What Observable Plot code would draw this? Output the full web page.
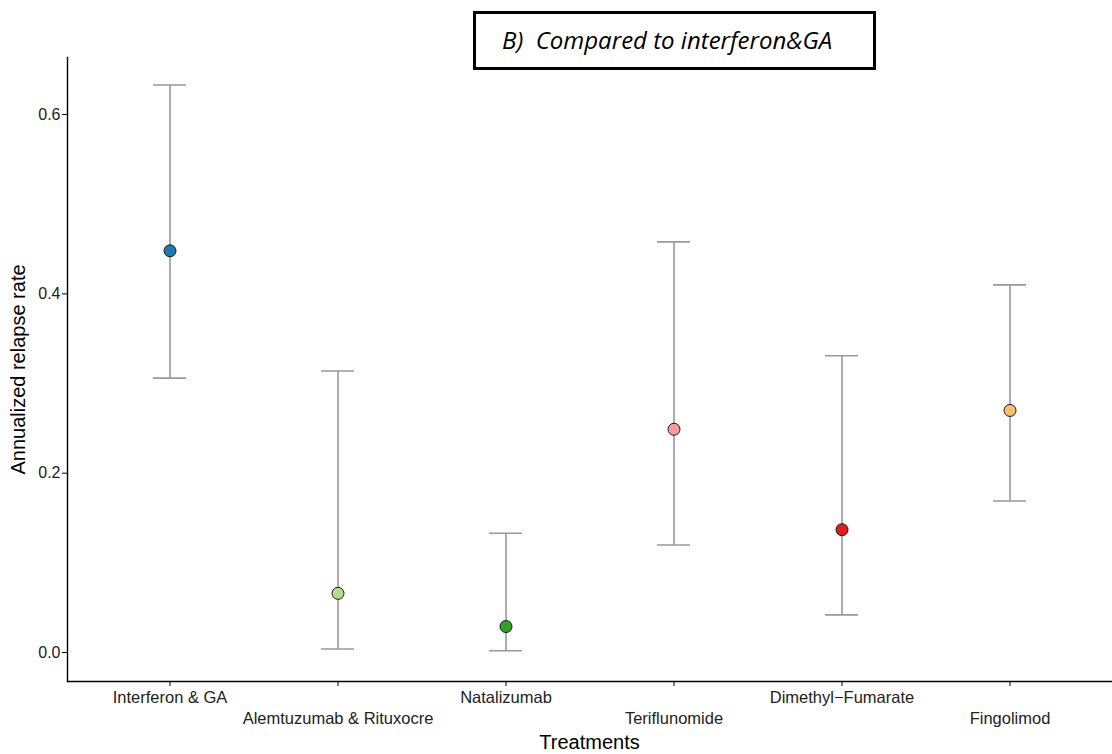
<!DOCTYPE html>
<html>
<head>
<meta charset="utf-8">
<script src="https://cdn.jsdelivr.net/npm/d3@7"></script>
<script src="https://cdn.jsdelivr.net/npm/@observablehq/plot@0.6"></script>
<style>
  body { margin: 0; background: #fff; }
  #wrap { position: relative; width: 1112px; height: 754px; }
  #title {
    position: absolute; left: 473px; top: 11px; width: 371px; height: 53px;
    border: 3px solid #000; background: #fff;
    font-family: "Open Sans", Lato, sans-serif; font-style: italic; font-size: 24px;
    white-space: pre; line-height: 51px; padding-left: 26px; box-sizing: content-box;
  }
</style>
</head>
<body>
<div id="wrap"></div>
<script>
const treatments = ["Interferon & GA", "Alemtuzumab & Rituxocre", "Natalizumab", "Teriflunomide", "Dimethyl\u2212Fumarate", "Fingolimod"];
const rate  = [0.448, 0.066, 0.029, 0.249, 0.137, 0.270];
const lower = [0.306, 0.004, 0.002, 0.120, 0.042, 0.169];
const upper = [0.633, 0.314, 0.133, 0.458, 0.331, 0.410];
const colors = ["#1f78b4", "#b2df8a", "#33a02c", "#fb9a99", "#e31a1c", "#fdbf6f"];
const yTicks = [0, 0.2, 0.4, 0.6];

const data = treatments.map((t, i) => ({t, i, rate: rate[i], lower: lower[i], upper: upper[i]}));

const chart = Plot.plot({
  width: 1112, height: 754,
  marginLeft: 67, marginRight: 1, marginTop: 57, marginBottom: 73,
  style: {fontFamily: "'Liberation Sans', Arial, sans-serif", fontSize: "16px", color: "#000", background: "#fff"},
  x: {type: "band", domain: treatments, paddingInner: 0.804, paddingOuter: 0.502},
  y: {domain: [-0.0323, 0.6636]},
  color: {type: "ordinal", domain: treatments, range: colors},
  marks: [
    Plot.ruleX(data, {x: "t", y1: "lower", y2: "upper", stroke: "#999", strokeWidth: 1.6}),
    Plot.tickY(data, {x: "t", y: "lower", stroke: "#999", strokeWidth: 1.6}),
    Plot.tickY(data, {x: "t", y: "upper", stroke: "#999", strokeWidth: 1.6}),
    Plot.dot(data, {x: "t", y: "rate", fill: "t", r: 6, stroke: "#1a1a1a", strokeWidth: 1}),
    Plot.axisY({ticks: yTicks, tickFormat: d3.format(".1f"), tickSize: 5, tickPadding: 2, fontSize: 16, label: null, fill: "#222"}),
    Plot.axisX({tickSize: 5, tickFormat: () => "", label: null}),
    Plot.text(data.filter(d => d.i % 2 === 0), {x: "t", text: "t", frameAnchor: "bottom", dy: 16, fontSize: 16.5, lineAnchor: "middle", fill: "#222"}),
    Plot.text(data.filter(d => d.i % 2 === 1), {x: "t", text: "t", frameAnchor: "bottom", dy: 37, fontSize: 16.5, lineAnchor: "middle", fill: "#222"}),
    Plot.text(["Treatments"], {frameAnchor: "bottom", dy: 61, fontSize: 20, lineAnchor: "middle"}),
    Plot.text(["Annualized relapse rate"], {frameAnchor: "left", dx: -49, rotate: -90, fontSize: 20, textAnchor: "middle"}),
    Plot.frame({anchor: "left", stroke: "#000", strokeWidth: 1.4}),
    Plot.frame({anchor: "bottom", stroke: "#000", strokeWidth: 1.4})
  ]
});
const wrap = document.getElementById("wrap");
wrap.appendChild(chart);
const title = document.createElement("div");
title.id = "title";
title.textContent = "B)  Compared to interferon&GA";
wrap.appendChild(title);
</script>
</body>
</html>
